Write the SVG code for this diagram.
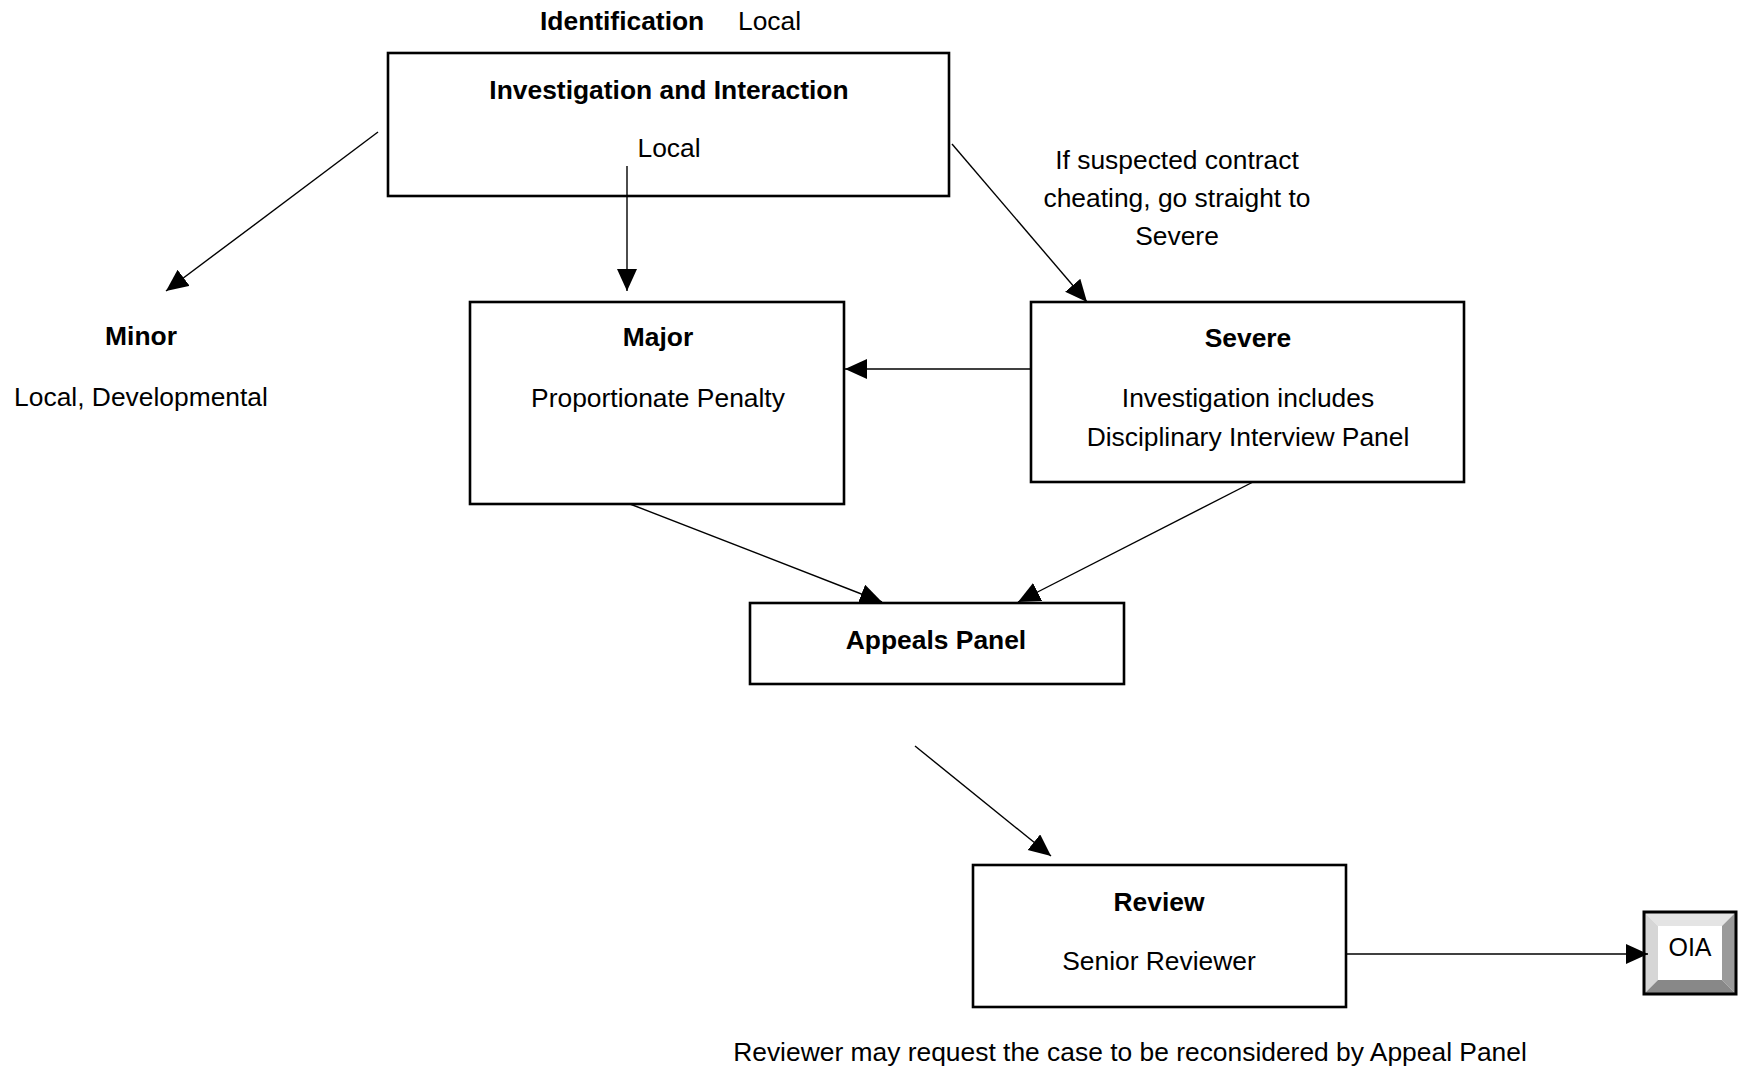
<svg xmlns="http://www.w3.org/2000/svg" width="1739" height="1071" viewBox="0 0 1739 1071">
<style>
text{font-family:"Liberation Sans",Arial,sans-serif;font-size:26.4px;fill:#000}
.b{font-weight:bold}
.m{text-anchor:middle}
.box{fill:#fff;stroke:#000;stroke-width:2.6}
.con{stroke:#000;stroke-width:1.4;fill:none;marker-end:url(#ah)}
</style>
<defs>
<marker id="ah" markerUnits="userSpaceOnUse" markerWidth="24" markerHeight="22" refX="22" refY="10" orient="auto">
<path d="M0,0 L22,10 L0,20 z" fill="#000"/>
</marker>
</defs>
<rect width="1739" height="1071" fill="#fff"/>
<g id="header">
<text class="b" x="540" y="30">Identification</text>
<text x="738" y="30">Local</text>
</g>
<g id="investigation">
<rect class="box" x="388" y="53" width="561" height="143"/>
<text class="b m" x="669" y="99">Investigation and Interaction</text>
<text class="m" x="669" y="157">Local</text>
</g>
<g id="contract-note">
<text class="m" x="1177" y="169">If suspected contract</text>
<text class="m" x="1177" y="207">cheating, go straight to</text>
<text class="m" x="1177" y="245">Severe</text>
</g>
<g id="minor">
<text class="b m" x="141" y="345">Minor</text>
<text class="m" x="141" y="406">Local, Developmental</text>
</g>
<g id="major">
<rect class="box" x="470" y="302" width="374" height="202"/>
<text class="b m" x="658" y="346">Major</text>
<text class="m" x="658" y="407">Proportionate Penalty</text>
</g>
<g id="severe">
<rect class="box" x="1031" y="302" width="433" height="180"/>
<text class="b m" x="1248" y="347">Severe</text>
<text class="m" x="1248" y="407">Investigation includes</text>
<text class="m" x="1248" y="446">Disciplinary Interview Panel</text>
</g>
<g id="appeals">
<rect class="box" x="750" y="603" width="374" height="81"/>
<text class="b m" x="936" y="649">Appeals Panel</text>
</g>
<g id="review">
<rect class="box" x="973" y="865" width="373" height="142"/>
<text class="b m" x="1159" y="911">Review</text>
<text class="m" x="1159" y="970">Senior Reviewer</text>
</g>
<g id="oia">
<rect x="1644" y="912" width="92" height="82" fill="#fff"/>
<polygon points="1644,912 1736,912 1722,926 1658,926" fill="#e4e4e4"/>
<polygon points="1644,912 1658,926 1658,980 1644,994" fill="#d6d6d6"/>
<polygon points="1736,912 1736,994 1722,980 1722,926" fill="#9a9a9a"/>
<polygon points="1644,994 1736,994 1722,980 1658,980" fill="#888"/>
<rect x="1644" y="912" width="92" height="82" fill="none" stroke="#000" stroke-width="3"/>
<text class="m" x="1690" y="956" style="font-size:25px">OIA</text>
</g>
<g id="footnote">
<text class="m" x="1130" y="1061">Reviewer may request the case to be reconsidered by Appeal Panel</text>
</g>
<g id="connectors">
<line class="con" x1="378" y1="132" x2="166" y2="291"/>
<line class="con" x1="627" y1="166" x2="627" y2="291"/>
<line class="con" x1="952" y1="144" x2="1087" y2="302"/>
<line class="con" x1="1031" y1="369" x2="845" y2="369"/>
<line class="con" x1="630" y1="504" x2="882" y2="602"/>
<line class="con" x1="1253" y1="482" x2="1018" y2="602"/>
<line class="con" x1="915" y1="746" x2="1051" y2="856"/>
<line class="con" x1="1346" y1="954" x2="1648" y2="954"/>
</g>
</svg>
